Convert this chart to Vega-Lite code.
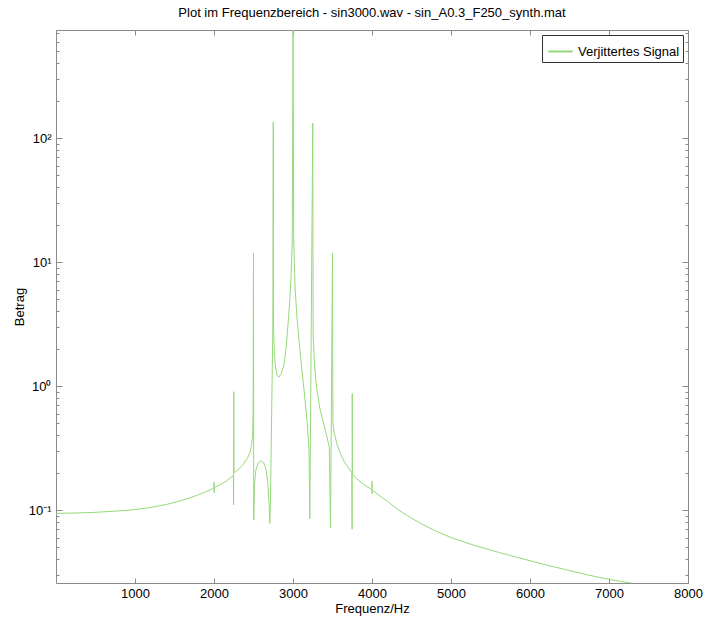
{
  "$schema": "https://vega.github.io/schema/vega-lite/v6.json",
  "width": 632,
  "height": 553,
  "autosize": "none",
  "padding": {"left": 56, "top": 30, "right": 19, "bottom": 43},
  "background": "white",
  "config": {
    "font": "Liberation Sans",
    "view": {"stroke": "#8a8a8a", "strokeWidth": 1},
    "axis": {"grid": false, "domain": false, "tickColor": "#8a8a8a", "labelColor": "black", "titleColor": "black", "labelFont": "Liberation Sans", "titleFont": "Liberation Sans", "labelFontSize": 13, "titleFontSize": 13, "titleFontWeight": "normal"}
  },
  "title": {"text": "Plot im Frequenzbereich - sin3000.wav - sin_A0.3_F250_synth.mat", "fontSize": 13, "fontWeight": "normal", "font": "Liberation Sans", "color": "black", "anchor": "middle", "offset": 7},
  "data": {"values": [
    {"f": 0, "v": 0.094}, {"f": 200, "v": 0.0945}, {"f": 450, "v": 0.0955}, {"f": 700, "v": 0.0975}, {"f": 950, "v": 0.1}, {"f": 1200, "v": 0.105},
    {"f": 1400, "v": 0.111}, {"f": 1600, "v": 0.12}, {"f": 1750, "v": 0.129}, {"f": 1880, "v": 0.139},
    {"f": 1997, "v": 0.15}, {"f": 2000, "v": 0.168}, {"f": 2002, "v": 0.138}, {"f": 2005, "v": 0.152},
    {"f": 2080, "v": 0.16}, {"f": 2160, "v": 0.172}, {"f": 2245, "v": 0.19}, {"f": 2248, "v": 0.11}, {"f": 2250, "v": 0.9}, {"f": 2253, "v": 0.2},
    {"f": 2300, "v": 0.21}, {"f": 2362, "v": 0.23}, {"f": 2420, "v": 0.26}, {"f": 2455, "v": 0.29}, {"f": 2475, "v": 0.33}, {"f": 2488, "v": 0.4},
    {"f": 2495, "v": 0.6}, {"f": 2500, "v": 11.8}, {"f": 2503, "v": 0.083}, {"f": 2512, "v": 0.16}, {"f": 2530, "v": 0.21}, {"f": 2560, "v": 0.24},
    {"f": 2594, "v": 0.25}, {"f": 2630, "v": 0.24}, {"f": 2657, "v": 0.215}, {"f": 2680, "v": 0.17}, {"f": 2695, "v": 0.12},
    {"f": 2707, "v": 0.078}, {"f": 2715, "v": 0.12}, {"f": 2730, "v": 0.6}, {"f": 2745, "v": 3}, {"f": 2750, "v": 134},
    {"f": 2753, "v": 3.0}, {"f": 2765, "v": 1.8}, {"f": 2780, "v": 1.4}, {"f": 2800, "v": 1.22}, {"f": 2820, "v": 1.18}, {"f": 2850, "v": 1.25},
    {"f": 2888, "v": 1.5}, {"f": 2915, "v": 2.1}, {"f": 2940, "v": 3.3}, {"f": 2960, "v": 5}, {"f": 2975, "v": 7.5}, {"f": 2990, "v": 14},
    {"f": 3000, "v": 743}, {"f": 3008, "v": 16}, {"f": 3025, "v": 6.5}, {"f": 3050, "v": 3.6}, {"f": 3080, "v": 2.2}, {"f": 3110, "v": 1.4},
    {"f": 3150, "v": 0.8}, {"f": 3180, "v": 0.5}, {"f": 3203, "v": 0.3}, {"f": 3213, "v": 0.085}, {"f": 3250, "v": 132},
    {"f": 3255, "v": 2.5}, {"f": 3275, "v": 1.4}, {"f": 3300, "v": 0.95}, {"f": 3340, "v": 0.66}, {"f": 3390, "v": 0.49}, {"f": 3430, "v": 0.39},
    {"f": 3460, "v": 0.32}, {"f": 3475, "v": 0.072}, {"f": 3500, "v": 11.8}, {"f": 3505, "v": 0.5}, {"f": 3520, "v": 0.42},
    {"f": 3560, "v": 0.335}, {"f": 3600, "v": 0.285}, {"f": 3650, "v": 0.245}, {"f": 3700, "v": 0.22}, {"f": 3745, "v": 0.2},
    {"f": 3748, "v": 0.07}, {"f": 3750, "v": 0.87}, {"f": 3753, "v": 0.195}, {"f": 3800, "v": 0.18}, {"f": 3900, "v": 0.16},
    {"f": 3997, "v": 0.146}, {"f": 4000, "v": 0.17}, {"f": 4002, "v": 0.135}, {"f": 4005, "v": 0.145},
    {"f": 4100, "v": 0.13}, {"f": 4200, "v": 0.117}, {"f": 4320, "v": 0.102}, {"f": 4450, "v": 0.09}, {"f": 4600, "v": 0.079}, {"f": 4800, "v": 0.068},
    {"f": 5000, "v": 0.06}, {"f": 5250, "v": 0.053}, {"f": 5500, "v": 0.0475}, {"f": 5750, "v": 0.043},
    {"f": 6000, "v": 0.039}, {"f": 6250, "v": 0.0355}, {"f": 6500, "v": 0.0325}, {"f": 6750, "v": 0.0298}, {"f": 7000, "v": 0.0276}, {"f": 7300, "v": 0.0256}, {"f": 7600, "v": 0.024}, {"f": 8000, "v": 0.022}
  ]},
  "layer": [
    {
      "mark": {"type": "line", "strokeWidth": 1, "clip": true, "interpolate": "linear"},
      "encoding": {
        "x": {"field": "f", "type": "quantitative", "scale": {"domain": [0, 8000], "nice": false, "zero": false},
          "axis": {"orient": "bottom", "title": "Frequenz/Hz", "format": "d", "values": [1000, 2000, 3000, 4000, 5000, 6000, 7000, 8000], "tickSize": -5, "labelPadding": 9, "titlePadding": 2, "labelFlush": false}},
        "y": {"field": "v", "type": "quantitative", "scale": {"type": "log", "domain": [0.0258, 743], "nice": false},
          "axis": {"orient": "left", "title": "Betrag", "titlePadding": 2,
            "values": [0.03, 0.04, 0.05, 0.06, 0.07, 0.08, 0.09, 0.1, 0.2, 0.3, 0.4, 0.5, 0.6, 0.7, 0.8, 0.9, 1, 2, 3, 4, 5, 6, 7, 8, 9, 10, 20, 30, 40, 50, 60, 70, 80, 90, 100, 200, 300, 400, 500, 600, 700],
            "labelExpr": "datum.value === 0.1 ? '10⁻¹' : datum.value === 1 ? '10⁰' : datum.value === 10 ? '10¹' : datum.value === 100 ? '10²' : ''",
            "tickSize": {"condition": {"test": "datum.value === 0.1 || datum.value === 1 || datum.value === 10 || datum.value === 100", "value": -6}, "value": -3},
            "labelPadding": 11, "labelFlush": false, "labelOverlap": false}},
        "color": {"datum": "Verjittertes Signal", "type": "nominal", "scale": {"range": ["#96d97a"]},
          "legend": {"orient": "top-right", "title": null, "offset": 5, "strokeColor": "#333333", "fillColor": "white", "padding": 3, "symbolType": "stroke", "symbolSize": 600, "symbolStrokeWidth": 2, "labelFontSize": 13, "labelFont": "Liberation Sans", "labelColor": "black", "symbolOffset": 2}}
      }
    },
    {
      "mark": {"type": "line", "strokeOpacity": 0, "clip": true},
      "encoding": {
        "x": {"field": "f", "type": "quantitative",
          "axis": {"orient": "top", "title": null, "labels": false, "values": [0, 1000, 2000, 3000, 4000, 5000, 6000, 7000, 8000], "tickSize": -5}},
        "y": {"field": "v", "type": "quantitative",
          "axis": {"orient": "right", "title": null, "labels": false,
            "values": [0.03, 0.04, 0.05, 0.06, 0.07, 0.08, 0.09, 0.1, 0.2, 0.3, 0.4, 0.5, 0.6, 0.7, 0.8, 0.9, 1, 2, 3, 4, 5, 6, 7, 8, 9, 10, 20, 30, 40, 50, 60, 70, 80, 90, 100, 200, 300, 400, 500, 600, 700],
            "tickSize": {"condition": {"test": "datum.value === 0.1 || datum.value === 1 || datum.value === 10 || datum.value === 100", "value": -6}, "value": -3}}}
      }
    }
  ],
  "resolve": {"axis": {"x": "independent", "y": "independent"}}
}
